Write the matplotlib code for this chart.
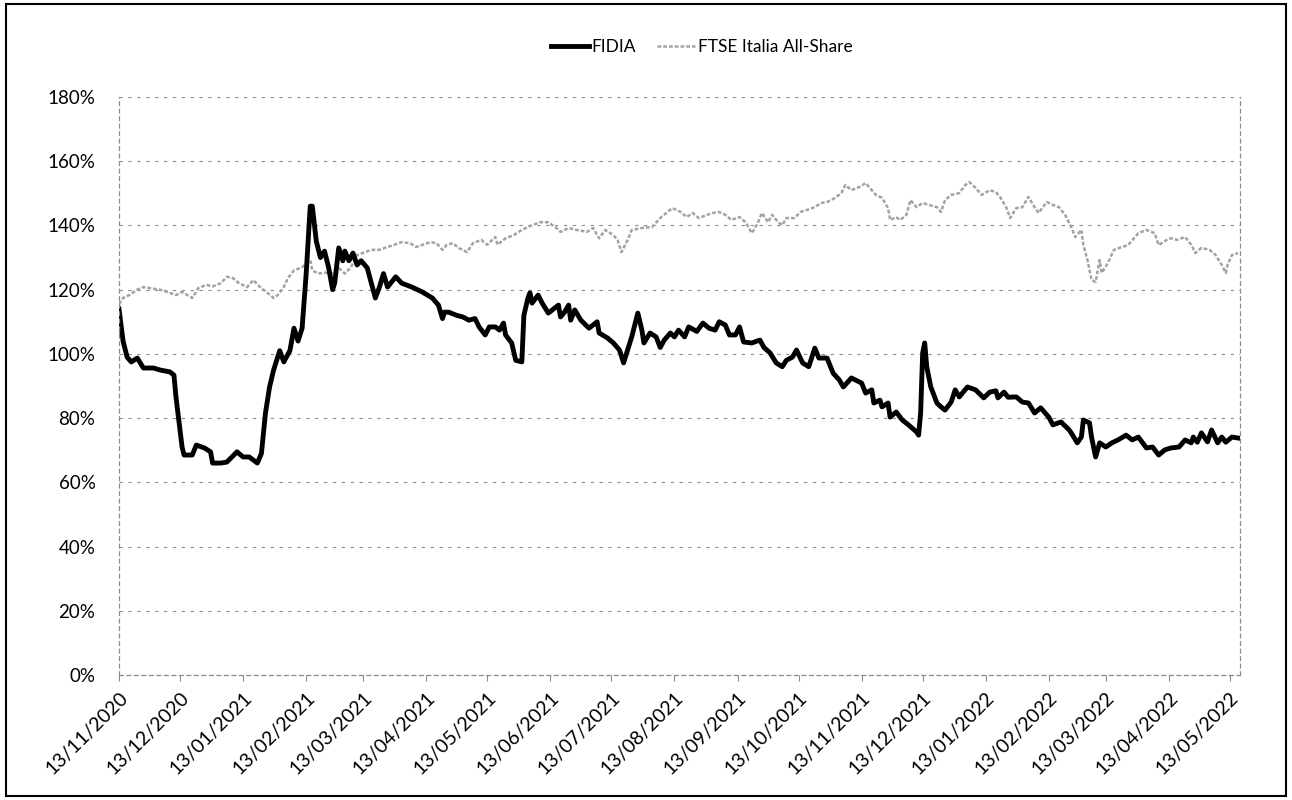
import numpy as np
import pandas as pd
import matplotlib; matplotlib.use("Agg")
import matplotlib.pyplot as plt
from matplotlib.ticker import FuncFormatter, MultipleLocator
from matplotlib.patches import Rectangle

plt.rcParams["font.family"] = ["Lato", "DejaVu Sans"]

START = pd.Timestamp("2020-11-13")
END = pd.Timestamp("2022-05-18")

# FIDIA: day offset from 13/11/2020, value in %
fidia_days = [0, 2, 4, 6, 9, 12, 17, 20, 25, 27, 28, 31, 32, 36, 38, 42, 45, 46, 50, 53,
              58, 61, 64, 68, 70, 72, 74, 76, 79, 81, 84, 86, 88, 90, 92, 94, 95, 97, 99, 101,
              103, 105, 106, 108, 110, 111, 113, 115, 117, 119, 122, 126, 128, 130, 132, 136, 139, 144, 149, 154,
              157, 159, 160, 162, 166, 169, 172, 175, 177, 180, 182, 185, 187, 189, 190, 193, 195, 198, 199, 201,
              202, 203, 206, 208, 211, 213, 216, 217, 219, 221, 222, 224, 227, 231, 235, 236, 240, 243, 246, 248,
              252, 255, 257, 258, 261, 264, 266, 268, 271, 273, 275, 278, 280, 284, 287, 290, 293, 295, 298, 300,
              303, 305, 307, 311, 315, 317, 320, 323, 326, 328, 331, 333, 336, 339, 342, 344, 348, 351, 354, 356,
              360, 365, 367, 370, 371, 374, 375, 378, 379, 382, 385, 388, 392, 393, 394, 395, 396, 397, 399, 402,
              404, 406, 409, 411, 413, 417, 421, 425, 428, 431, 432, 435, 437, 441, 444, 447, 450, 453, 457, 459,
              463, 467, 468, 471, 473, 474, 477, 478, 480, 482, 485, 488, 491, 495, 498, 501, 505, 508, 511, 514,
              517, 521, 524, 527, 528, 530, 532, 535, 537, 540, 542, 544, 547, 550]
fidia_vals = [114, 104, 99, 97.5, 98.7, 95.6, 95.6, 95, 94.4, 93.4, 86.6, 71, 68.5, 68.5, 71.6, 70.7, 69.5, 66, 66, 66.3,
              69.5, 67.9, 67.9, 66, 69, 81.6, 89.7, 95, 101, 97.5, 101, 108, 104, 108, 125, 146, 146, 135, 130, 132,
              127, 120, 122, 133, 129, 132, 129, 131.4, 127.7, 129, 126.8, 117.4, 120.8, 125, 120.8, 124, 122, 120.8, 119.3, 117.4,
              115.2, 111, 113, 113, 112, 111.5, 110.5, 111, 108.4, 105.9, 108.4, 108.4, 107.4, 109.6, 105.9, 103.4, 98, 97.5, 112, 117.4,
              119, 115.8, 118.3, 115.8, 112.7, 113.7, 115.2, 111.5, 113, 115.2, 110.5, 113.7, 110.5, 108, 110, 106.5, 105, 103.4, 101.2, 97.2,
              105.3, 112.7, 107.4, 103.4, 106.5, 105.3, 102, 104.3, 106.5, 105.3, 107.4, 105.3, 108.4, 107, 109.6, 108, 107.4, 110, 109, 105.9,
              105.9, 108.4, 103.7, 103.4, 104.3, 102, 100.3, 97.2, 96, 98, 99, 101.2, 97.2, 96, 101.8, 98.7, 98.7, 94, 91.9, 89.7,
              92.5, 90.9, 87.8, 88.8, 84.7, 85.6, 83.5, 84.7, 80.3, 81.9, 79.4, 77.9, 75.7, 74.7, 81.6, 100.3, 103.4, 96, 89.7, 84.7,
              83.5, 82.5, 85, 88.8, 86.6, 89.7, 88.8, 86.3, 88.1, 88.5, 86.3, 88.1, 86.5, 86.6, 85, 84.7, 81.6, 83.2, 80.3, 77.9,
              78.8, 76.3, 75.4, 72.3, 74.1, 79.4, 78.5, 74.1, 67.9, 72.3, 71, 72.3, 73.2, 74.7, 73.2, 74.1, 70.7, 71, 68.5, 70.1,
              70.7, 71, 73.2, 72.3, 74.1, 72.5, 75.4, 72.6, 76.3, 72.3, 74.1, 72.5, 74.1, 73.8]

# FTSE Italia All-Share
ftse_days = [0, 2, 5, 9, 12, 15, 20, 25, 28, 31, 36, 39, 43, 46, 50, 53, 56, 59, 63, 66,
             69, 73, 76, 78, 81, 83, 86, 90, 94, 95, 98, 101, 105, 108, 111, 114, 117, 121, 124, 128,
             132, 135, 139, 143, 146, 149, 153, 156, 159, 161, 164, 167, 171, 174, 178, 181, 185, 186, 190, 194,
             198, 203, 207, 211, 215, 217, 221, 225, 230, 233, 236, 239, 243, 245, 247, 250, 252, 257, 262, 266,
             269, 272, 276, 279, 282, 285, 289, 292, 295, 298, 301, 305, 308, 311, 314, 316, 319, 321, 324, 326,
             328, 332, 335, 338, 342, 345, 348, 352, 355, 357, 360, 364, 367, 370, 372, 375, 378, 379, 382, 384,
             387, 389, 392, 395, 398, 402, 404, 406, 409, 413, 416, 418, 421, 424, 428, 431, 433, 436, 438, 441,
             444, 447, 450, 452, 456, 459, 462, 465, 468, 470, 473, 474, 476, 478, 480, 482, 483, 486, 489, 493,
             496, 501, 505, 509, 511, 515, 517, 520, 524, 527, 529, 532, 536, 539, 542, 544, 545, 547, 550]
ftse_vals = [115.5, 117.4, 118.3, 120, 120.8, 120.5, 120, 119, 118.3, 119.3, 117.4, 120.5, 121.5, 121, 122, 124, 123.6, 122, 120.8, 123,
             121, 119, 117.4, 118.3, 120.8, 123.6, 126, 127, 129.2, 126, 125, 125.3, 125, 126.8, 125, 127, 130.8, 131.7, 132.4, 132.4,
             133.3, 133.9, 134.8, 134.5, 133.3, 133.9, 134.8, 134.5, 132.4, 133.9, 134.5, 133, 131.7, 134.5, 135.5, 134, 136.4, 134, 136, 137,
             138.6, 140.1, 141, 141, 139.2, 138, 139.2, 138.6, 138, 139.2, 136, 138.6, 137, 135.5, 131.7, 135.5, 138.6, 139.2, 139.5, 142.3,
             143.9, 145.4, 144.2, 142.6, 143.9, 142.3, 143.3, 143.9, 144.2, 143.3, 141.7, 142.6, 141, 137.6, 140.8, 143.9, 141, 143.3, 141, 140.1,
             142.3, 142.3, 144.2, 144.8, 145.7, 147, 147.3, 148.6, 150.1, 152.6, 151, 152, 153.2, 151, 149.5, 148.6, 145.4, 141.7, 142.6, 141.7,
             143.3, 147.9, 145.7, 147, 146.4, 145.7, 144.2, 147.9, 149.5, 150.1, 152.6, 153.5, 151.7, 149.5, 151, 150.4, 148.9, 145.7, 142.3, 145.4,
             145.7, 148.9, 145.7, 143.9, 147.3, 146.4, 145.7, 143.3, 139.5, 136.4, 138.6, 133.9, 129.2, 123, 122.4, 129.2, 125.2, 128.3, 132.4, 133.3,
             133.9, 137.6, 138.6, 137.6, 133.9, 135.5, 136, 135.5, 136.4, 134, 131.4, 133, 132.4, 130.8, 127.7, 125.2, 128, 130.8, 131.4]

tick_dates = pd.date_range(START, periods=19, freq=pd.DateOffset(months=1))

fidia_x = START + pd.to_timedelta(fidia_days, unit="D")
ftse_x = START + pd.to_timedelta(ftse_days, unit="D")

GRID = "#8c8c8c"
fig = plt.figure(figsize=(12.92, 8.0), dpi=100)
fig.patch.set_facecolor("white")
ax = fig.add_axes([0.0921, 0.15625, 0.8677, 0.7225])

ax.plot(ftse_x, np.array(ftse_vals) / 100, color="#a3a3a3", lw=1.8, ls=(0, (1.5, 0.8)), label="FTSE Italia All-Share")
ax.plot(fidia_x, np.array(fidia_vals) / 100, color="black", lw=3.5, label="FIDIA")

ax.set_ylim(0, 1.8)
ax.set_xlim(START, END)
ax.yaxis.set_major_locator(MultipleLocator(0.2))
ax.yaxis.set_major_formatter(FuncFormatter(lambda v, p: f"{v*100:.0f}%"))
ax.set_xticks(tick_dates)
ax.set_xticklabels([d.strftime("%d/%m/%Y") for d in tick_dates], rotation=45, ha="right",
                   rotation_mode="anchor", fontsize=14)
ax.tick_params(axis="y", labelsize=13.5, length=0, pad=17)
ax.tick_params(axis="x", length=4, color=GRID, pad=6)
ax.grid(axis="y", color=GRID, ls=(0, (3, 5)), lw=0.8)
for s in ax.spines.values():
    s.set_color(GRID); s.set_linestyle((0, (3, 3))); s.set_linewidth(0.9)
ax.spines["top"].set_visible(False)

h, l = ax.get_legend_handles_labels()
fig.legend(h[::-1], l[::-1], loc="center", bbox_to_anchor=(0.543, 0.941), ncol=2, frameon=False,
           fontsize=12.5, handlelength=2.2, columnspacing=1.2, handletextpad=0.15)

fig.patches.append(Rectangle((0.005, 0.005), 0.99, 0.99, transform=fig.transFigure,
                             fill=False, edgecolor="black", lw=1.5))
fig.savefig("out.png", dpi=100, facecolor="white")
